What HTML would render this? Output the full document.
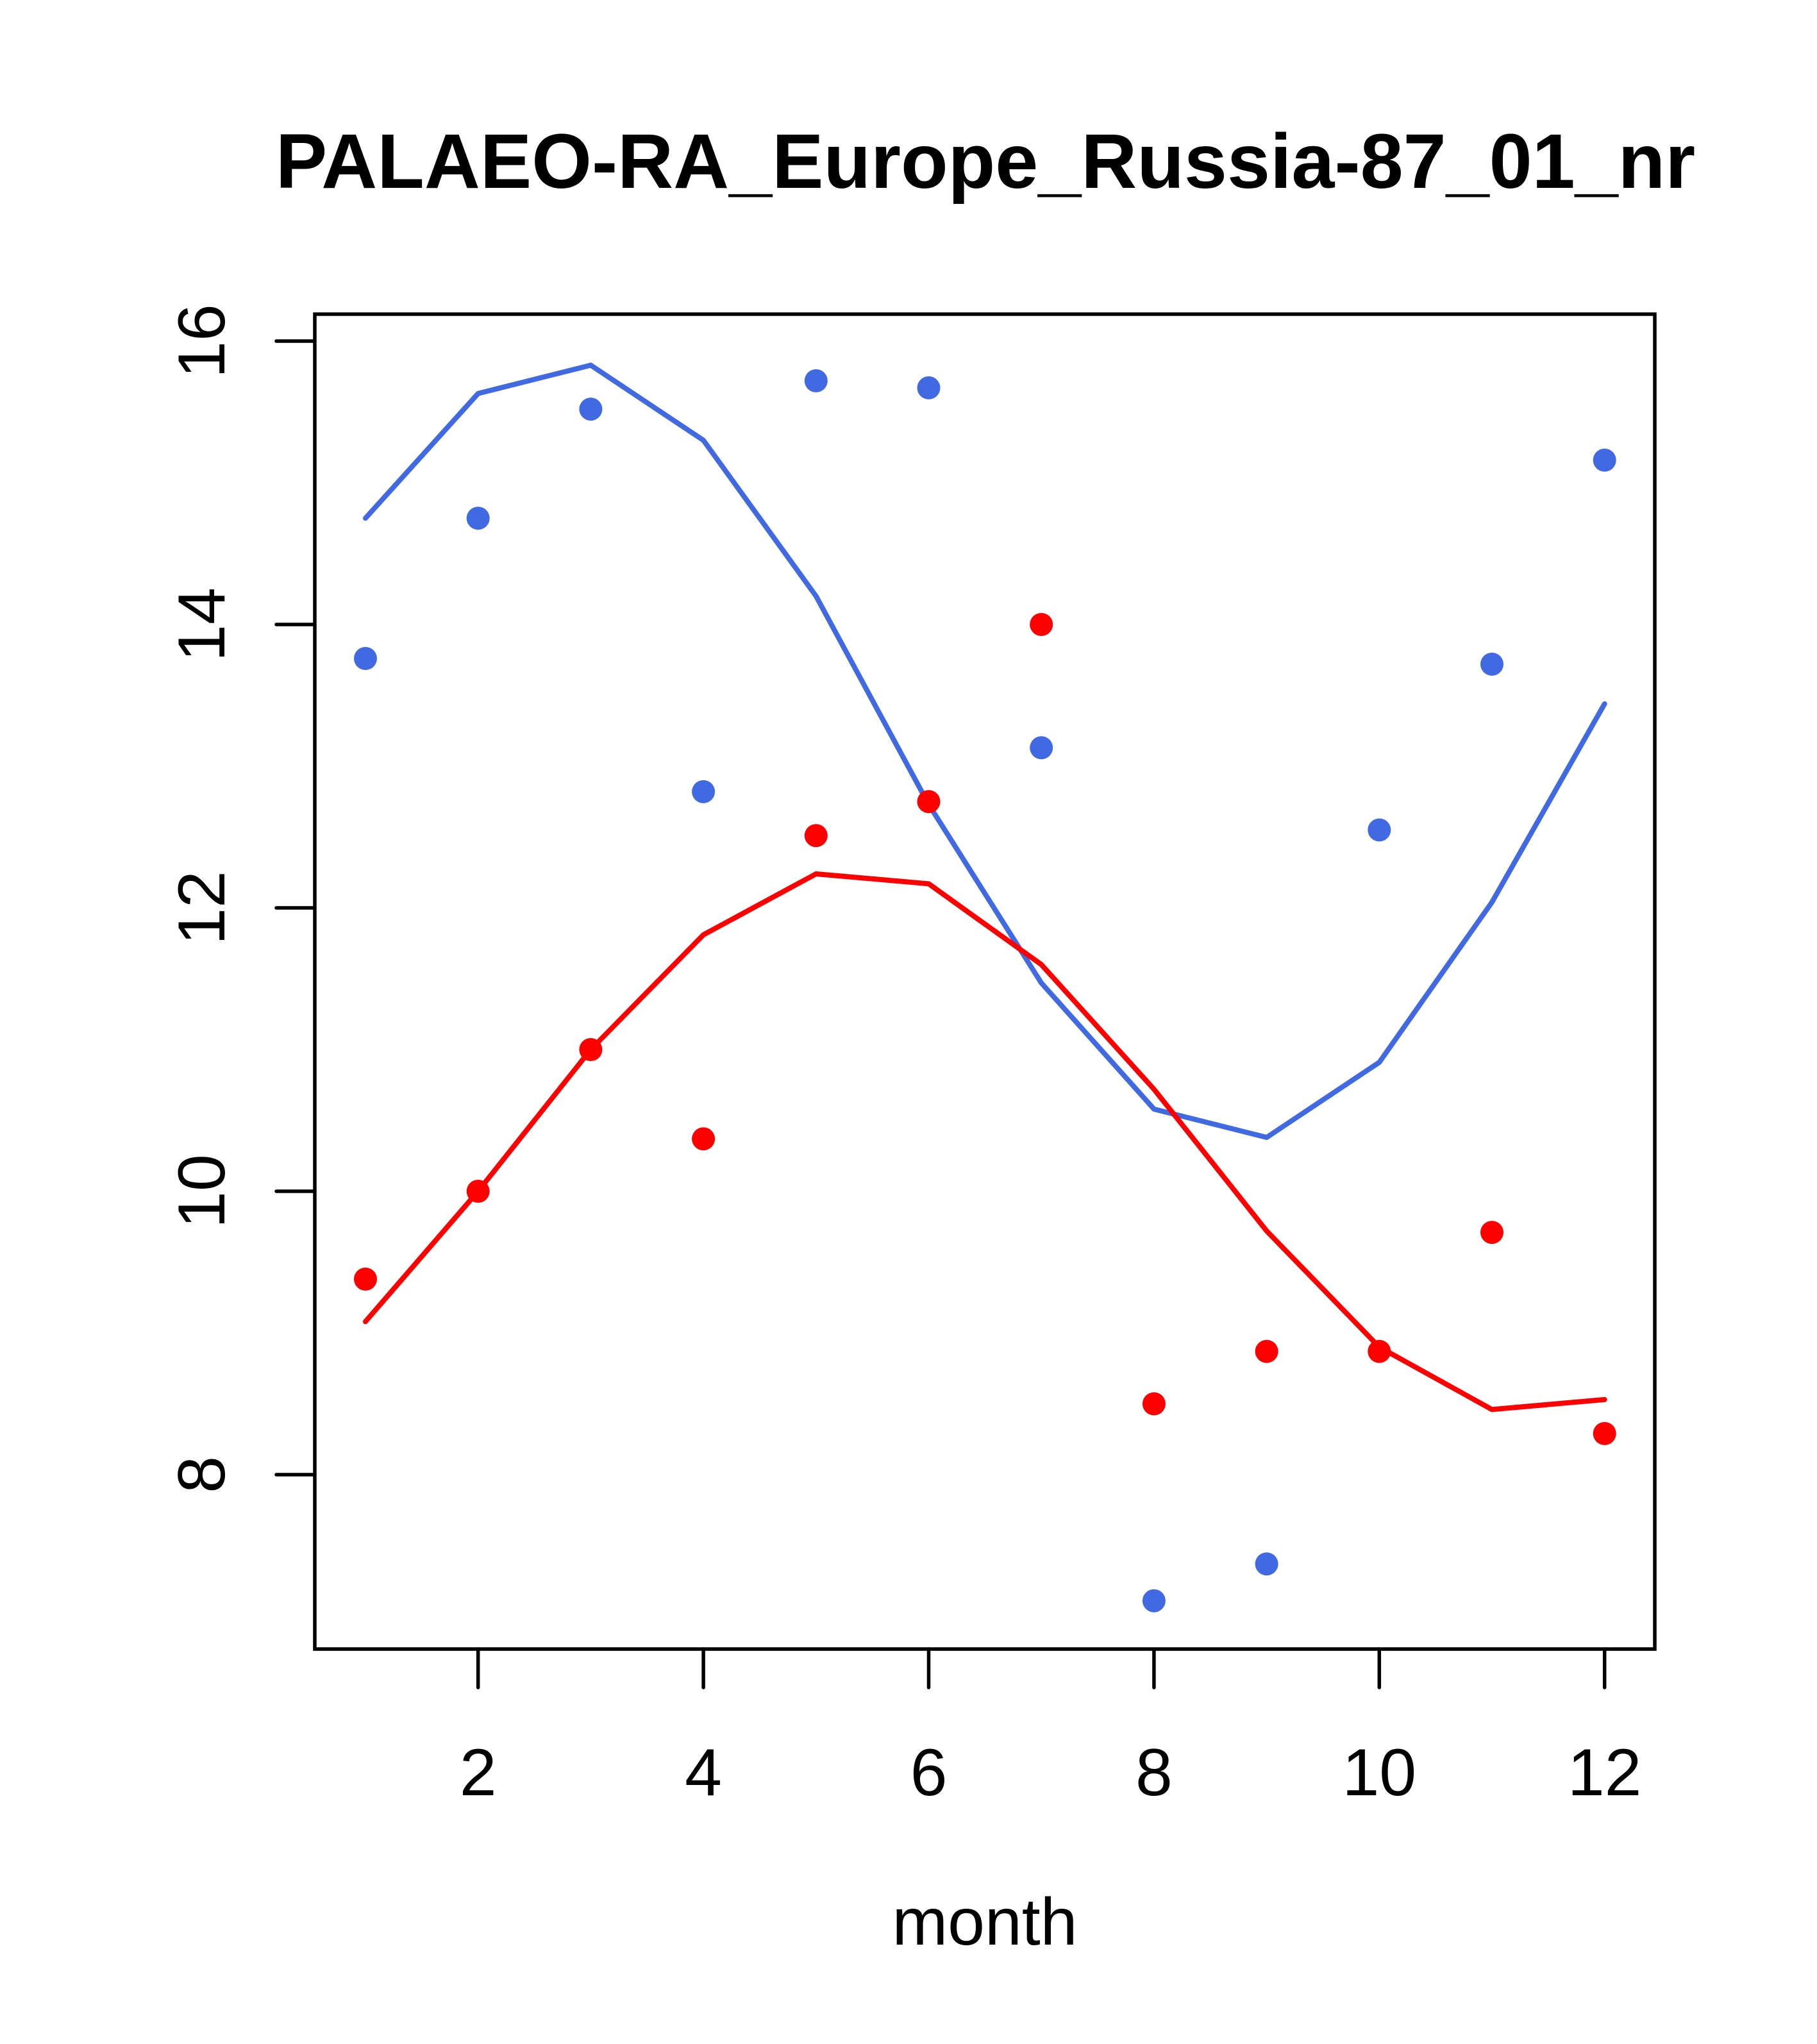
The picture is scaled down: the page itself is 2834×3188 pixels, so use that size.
<!DOCTYPE html>
<html><head><meta charset="utf-8"><style>html,body{margin:0;padding:0;background:#fff}svg{display:block}</style></head>
<body>
<svg id="chart" width="2834" height="3188" xmlns="http://www.w3.org/2000/svg" font-family="Liberation Sans, Arial, sans-serif">
<rect width="2834" height="3188" fill="#fff"/>
<text x="1537" y="293" text-anchor="middle" font-size="120.5" font-weight="bold">PALAEO-RA_Europe_Russia-87_01_nr</text>
<g id="axes"></g>
<g id="marks"></g>
<rect x="491" y="490" width="2090" height="2082" fill="none" stroke="#000" stroke-width="5.5"/>
<text x="1536" y="3033" text-anchor="middle" font-size="104">month</text>
</svg>
<script>
const months = [1,2,3,4,5,6,7,8,9,10,11,12];
const bluePoints = [13.76,14.75,15.52,12.82,15.72,15.67,13.13,7.11,7.37,12.55,13.72,15.16];
const blueLine = [14.75,15.63,15.83,15.30,14.20,12.73,11.47,10.58,10.38,10.91,12.04,13.44];
const redPoints = [9.38,10.0,11.0,10.37,12.51,12.75,14.0,8.50,8.87,8.87,9.71,8.29];
const redLine = [9.08,10.0,11.0,11.81,12.24,12.17,11.6,10.72,9.72,8.9,8.46,8.53];
const xTicks = [2,4,6,8,10,12];
const yTicks = [8,10,12,14,16];

const NS = 'http://www.w3.org/2000/svg';
function xs(m){ return 570 + (m-1)*175.7; }
function ys(v){ return 532 + (16-v)*221.0; }
function mk(tag, attrs, parent){ const e=document.createElementNS(NS,tag); for(const k in attrs) e.setAttribute(k,attrs[k]); parent.appendChild(e); return e; }
const axes=document.getElementById('axes'), marks=document.getElementById('marks');

xTicks.forEach(t=>{
  const l=mk('line',{x1:xs(t),x2:xs(t),y1:2572,y2:2632,stroke:'#000','stroke-width':5.5,'stroke-linecap':'round'},axes);
  
  
  const tx=mk('text',{x:xs(t),y:2800,'text-anchor':'middle','font-size':104},axes);
  tx.textContent=t;
  
  
});
yTicks.forEach(t=>{
  const l=mk('line',{x1:431,x2:491,y1:ys(t),y2:ys(t),stroke:'#000','stroke-width':5.5,'stroke-linecap':'round'},axes);
  
  
  const tx=mk('text',{x:0,y:0,'text-anchor':'middle','font-size':104,transform:'translate(350,'+ys(t)+') rotate(-90)'},axes);
  tx.textContent=t;
  
  
});

function drawLine(vals,color,name){
  const p=mk('polyline',{points:months.map((m,i)=>xs(m)+','+ys(vals[i])).join(' '),fill:'none',stroke:color,'stroke-width':8,'stroke-linejoin':'round','stroke-linecap':'round'},marks);
  
  
}
function drawPts(vals,color,name){
  months.forEach((m,i)=>{
    const c=mk('circle',{cx:xs(m),cy:ys(vals[i]),r:18,fill:color},marks);
    
    
  });
}
drawLine(blueLine,'#4169E1','blue-line');
drawLine(redLine,'#FF0000','red-line');
drawPts(bluePoints,'#4169E1','blue-point');
drawPts(redPoints,'#FF0000','red-point');
</script>
</body></html>
